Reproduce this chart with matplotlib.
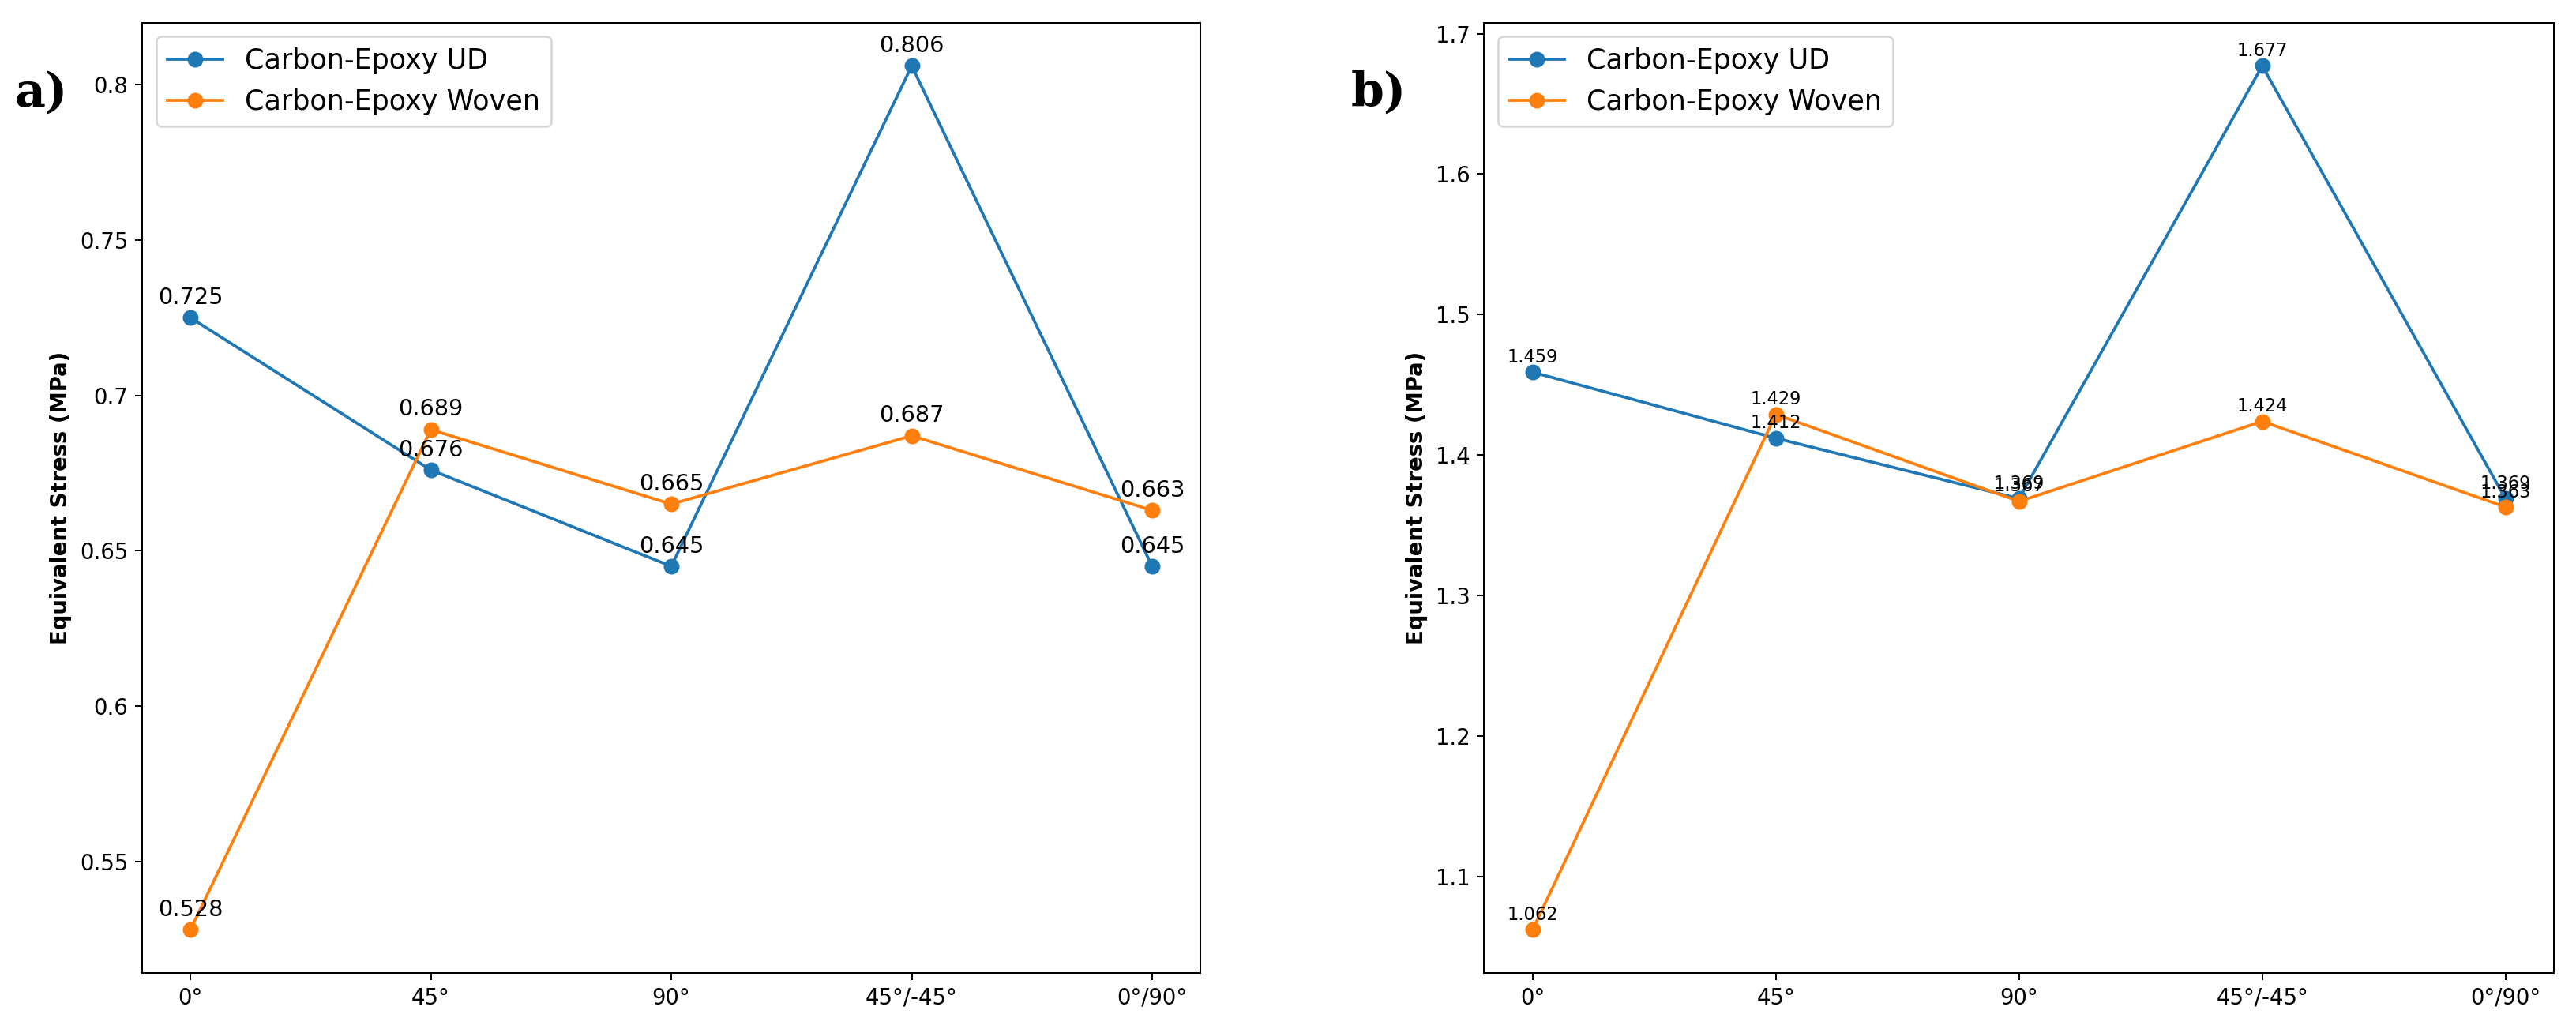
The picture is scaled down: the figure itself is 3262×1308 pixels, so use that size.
import matplotlib.pyplot as plt
from matplotlib.ticker import FuncFormatter

# orientations
orientations = ['0°', '45°', '90°', '45°/-45°', '0°/90°']

# panel a) values
a_ud = [0.725, 0.676, 0.645, 0.806, 0.645]
a_woven = [0.528, 0.689, 0.665, 0.687, 0.663]

# panel b) values
b_ud = [1.459, 1.412, 1.369, 1.677, 1.369]
b_woven = [1.062, 1.429, 1.367, 1.424, 1.363]

labels = ['Carbon-Epoxy UD', 'Carbon-Epoxy Woven']

fig = plt.figure(figsize=(3263 / 180, 1308 / 180), dpi=180)
ax1 = fig.add_axes([0.0552, 0.058, 0.4106, 0.920])
ax2 = fig.add_axes([0.5759, 0.058, 0.4153, 0.920])

x = list(range(len(orientations)))


def draw(ax, ud, woven, fs, off):
    ax.plot(x, ud, marker='o', markersize=7, label=labels[0])
    ax.plot(x, woven, marker='o', markersize=7, label=labels[1])
    for series in (ud, woven):
        for xi, yi in zip(x, series):
            ax.annotate(f'{yi:.3f}', (xi, yi), textcoords='offset points',
                        xytext=(0, off), ha='center', fontsize=fs)
    ax.set_xticks(x)
    ax.set_xticklabels(orientations)
    ax.tick_params(labelsize=11)
    ax.set_ylabel('Equivalent Stress (MPa)', fontweight='bold', fontsize=11)
    ax.legend(loc='upper left', fontsize=14)


draw(ax1, a_ud, a_woven, 11.5, 7)
draw(ax2, b_ud, b_woven, 9, 5)

ax1.yaxis.set_major_formatter(FuncFormatter(lambda v, p: f'{v:g}'))

fig.text(0.016, 0.91, 'a)', fontsize=24, fontweight='bold', family='DejaVu Serif',
         ha='center', va='center')
fig.text(0.535, 0.91, 'b)', fontsize=24, fontweight='bold', family='DejaVu Serif',
         ha='center', va='center')

fig.savefig('out.png', dpi=180)
